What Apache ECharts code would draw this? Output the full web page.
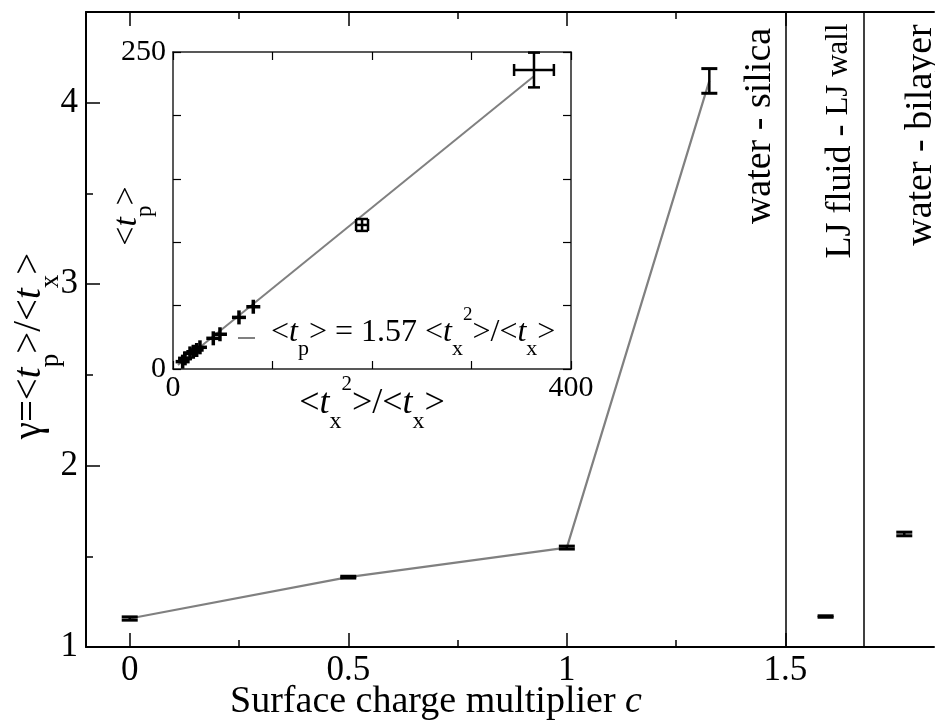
<!DOCTYPE html>
<html>
<head>
<meta charset="utf-8">
<script src="https://cdn.jsdelivr.net/npm/echarts@6/dist/echarts.min.js"></script>
<style>
  html, body { margin: 0; padding: 0; background: #fff; }
  #chart { width: 935px; height: 723px; }
</style>
</head>
<body>
<div id="chart"></div>
<script>
// main panel: gamma = <tp>/<tx> against surface charge multiplier c
const chargeC = [0, 0.5, 1, 1.326];
const gamma = [1.157, 1.385, 1.548, 4.12];
const gammaErr = [0.009, 0.005, 0.008, 0.068];

// the two other systems, right of the separators
const otherX = [1.592, 1.772];
const otherGamma = [1.168, 1.623];
const otherErr = [0.004, 0.01];
const separatorX = [1.5, 1.68];

const xTicks = [0, 0.5, 1, 1.5];
const xMinorTicks = [0.25, 0.75, 1.25];
const yTicks = [1, 2, 3, 4];
const yMinorTicks = [1.5, 2.5, 3.5];

// inset: <tp> against <tx^2>/<tx>
const insetX = [9.7, 12.1, 17.1, 20.4, 23.8, 27.1, 40.5, 47.2, 66.3, 80.7, 190, 362.8];
const insetY = [5.8, 8.4, 12.3, 13.6, 15.0, 17.1, 24.2, 27.4, 40.7, 49.1, 113.6, 235.8];
const insetXErr = [0, 0, 0, 0, 0, 0, 0, 0, 0, 0, 6, 20];
const insetYErr = [0, 0, 0, 0, 0, 0, 0, 0, 0, 0, 4.7, 13.7];
const fitX = [5, 363];
const fitY = [3.2, 231];
const insetXTicks = [0, 100, 200, 300, 400];
const insetYTicks = [0, 50, 100, 150, 200, 250];
const insetXLabels = [0, 400];
const insetYLabels = [0, 250];

const FONT = "'Liberation Serif', 'Times New Roman', serif";

const chart = echarts.init(document.getElementById('chart'), null, { renderer: 'canvas' });

function seg(x1, y1, x2, y2, w) {
  return { type: 'line', shape: { x1, y1, x2, y2 }, style: { stroke: '#000', lineWidth: w } };
}

function renderErrY(params, api) {
  const x = api.value(0), y = api.value(1), e = api.value(2);
  const lo = api.coord([x, y - e]);
  const hi = api.coord([x, y + e]);
  const w = 8;
  return {
    type: 'group',
    children: [
      seg(lo[0], lo[1], hi[0], hi[1], 2.5),
      seg(lo[0] - w, lo[1], lo[0] + w, lo[1], 3),
      seg(hi[0] - w, hi[1], hi[0] + w, hi[1], 3),
    ],
  };
}

function renderCross(params, api) {
  const x = api.value(0), y = api.value(1), ex = api.value(2), ey = api.value(3);
  const c = api.coord([x, y]);
  const arm = 7, cap = 6;
  const kids = [];
  if (ex > 0) {
    const l = api.coord([x - ex, y]), r = api.coord([x + ex, y]);
    kids.push(seg(l[0], c[1], r[0], c[1], 2.5), seg(l[0], c[1] - cap, l[0], c[1] + cap, 2.5), seg(r[0], c[1] - cap, r[0], c[1] + cap, 2.5));
  }
  if (ey > 0) {
    const b = api.coord([x, y - ey]), t = api.coord([x, y + ey]);
    kids.push(seg(c[0], b[1], c[0], t[1], 2.5), seg(c[0] - cap, b[1], c[0] + cap, b[1], 2.5), seg(c[0] - cap, t[1], c[0] + cap, t[1], 2.5));
  }
  if (!ex && !ey) {
    kids.push(seg(c[0] - arm, c[1], c[0] + arm, c[1], 3.5), seg(c[0], c[1] - arm, c[0], c[1] + arm, 3.5));
  }
  return { type: 'group', children: kids };
}

function tickAxis(extra) {
  return Object.assign({
    type: 'value',
    axisLine: { show: false, onZero: false },
    axisTick: { show: false },
    axisLabel: { show: false },
    splitLine: { show: false },
  }, extra);
}

const mainLine = { show: true, onZero: false, lineStyle: { color: '#000', width: 2 } };
const insetLine = { show: true, onZero: false, lineStyle: { color: '#222', width: 1.5 } };
const labelStyle = (size, vals, margin) => ({
  show: true, customValues: vals, color: '#000', fontFamily: FONT, fontSize: size, margin,
});
// inside=false on a bottom/left axis moved to the opposite border points the ticks into the box
const ticks = (vals, len, w, inside = true) => ({
  show: true, inside, length: len, customValues: vals, lineStyle: { color: '#000', width: w },
});

// main panel box, repeated so that each grid carries one axis per side
const mainBox = { left: 86, right: 1, top: 12, bottom: 76 };
const mainH = 723 - 12 - 76;
const insetBox = { left: 173, top: 52, width: 398, height: 317 };
const xMain = { min: -0.1, max: 1.84 };
const yMain = { min: 1, max: 4.5 };
const xInset = { min: 0, max: 400 };
const yInset = { min: 0, max: 250 };

const option = {
  animation: false,
  backgroundColor: '#fff',
  grid: [mainBox, insetBox, mainBox, mainBox, mainBox, insetBox],
  xAxis: [
    tickAxis({ gridIndex: 0, ...xMain, position: 'bottom', axisLine: mainLine,
      axisTick: ticks(xTicks, 14, 1.5), axisLabel: labelStyle(35, xTicks, 6) }),
    tickAxis({ gridIndex: 1, ...xInset, position: 'bottom', axisLine: insetLine,
      axisTick: ticks(insetXTicks, 8, 1.2), axisLabel: labelStyle(30, insetXLabels, 4) }),
    tickAxis({ gridIndex: 2, ...xMain, position: 'bottom', axisTick: ticks(xMinorTicks, 7, 1.5) }),
    // top border of the main panel
    tickAxis({ gridIndex: 3, ...xMain, position: 'bottom', offset: -mainH, axisLine: mainLine,
      axisTick: ticks(xTicks, 14, 1.5, false) }),
    tickAxis({ gridIndex: 4, ...xMain, position: 'bottom', offset: -mainH, axisTick: ticks(xMinorTicks, 7, 1.5, false) }),
    // top border of the inset
    tickAxis({ gridIndex: 5, ...xInset, position: 'bottom', offset: -insetBox.height, axisLine: insetLine,
      axisTick: ticks(insetXTicks, 8, 1.2, false) }),
  ],
  yAxis: [
    tickAxis({ gridIndex: 0, ...yMain, position: 'left', axisLine: mainLine,
      axisTick: ticks(yTicks, 14, 1.5), axisLabel: labelStyle(35, yTicks, 8) }),
    tickAxis({ gridIndex: 1, ...yInset, position: 'left', axisLine: insetLine,
      axisTick: ticks(insetYTicks, 8, 1.2), axisLabel: labelStyle(30, insetYLabels, 7) }),
    tickAxis({ gridIndex: 2, ...yMain, position: 'left', axisTick: ticks(yMinorTicks, 7, 1.5) }),
    tickAxis({ gridIndex: 3, ...yMain, position: 'left' }),
    tickAxis({ gridIndex: 4, ...yMain, position: 'left' }),
    // right border of the inset
    tickAxis({ gridIndex: 5, ...yInset, position: 'left', offset: -insetBox.width, axisLine: insetLine,
      axisTick: ticks(insetYTicks, 8, 1.2, false) }),
  ],
  series: [
    {
      type: 'line',
      xAxisIndex: 0,
      yAxisIndex: 0,
      data: chargeC.map((c, i) => [c, gamma[i]]),
      symbol: 'none',
      lineStyle: { color: '#808080', width: 2.2 },
      markLine: {
        silent: true,
        symbol: ['none', 'none'],
        label: { show: false },
        lineStyle: { color: '#000', width: 1.5, type: 'solid' },
        data: separatorX.map((v) => ({ xAxis: v })),
      },
      z: 2,
    },
    {
      type: 'custom',
      xAxisIndex: 0,
      yAxisIndex: 0,
      renderItem: renderErrY,
      data: chargeC.map((c, i) => [c, gamma[i], gammaErr[i]])
        .concat(otherX.map((x, i) => [x, otherGamma[i], otherErr[i]])),
      z: 3,
    },
    {
      type: 'line',
      xAxisIndex: 1,
      yAxisIndex: 1,
      data: fitX.map((x, i) => [x, fitY[i]]),
      symbol: 'none',
      lineStyle: { color: '#808080', width: 2 },
      z: 2,
    },
    {
      type: 'custom',
      xAxisIndex: 1,
      yAxisIndex: 1,
      renderItem: renderCross,
      data: insetX.map((x, i) => [x, insetY[i], insetXErr[i], insetYErr[i]]),
      z: 3,
    },
  ],
  graphic: [
    // axis titles
    {
      type: 'text', x: 436, y: 702,
      style: {
        text: '{n|Surface charge multiplier }{i|c}',
        textAlign: 'center', align: 'center', textVerticalAlign: 'middle', verticalAlign: 'middle', fill: '#000',
        rich: {
          n: { fontFamily: FONT, fontSize: 38, lineHeight: 44 },
          i: { fontFamily: FONT, fontSize: 38, lineHeight: 44, fontStyle: 'italic' },
        },
      },
    },
    {
      type: 'text', x: 30, y: 346, rotation: Math.PI / 2,
      style: {
        text: '{n|γ=<}{i|t}{s|p}{n|>/<}{i|t}{s|x}{n|>}',
        textAlign: 'center', align: 'center', textVerticalAlign: 'middle', verticalAlign: 'middle', fill: '#000',
        rich: {
          n: { fontFamily: FONT, fontSize: 39, lineHeight: 68 },
          i: { fontFamily: FONT, fontSize: 39, lineHeight: 68, fontStyle: 'italic' },
          s: { fontFamily: FONT, fontSize: 27, lineHeight: 27, verticalAlign: 'bottom' },
        },
      },
    },
    // inset titles
    {
      type: 'text', x: 127, y: 216, rotation: Math.PI / 2,
      style: {
        text: '{n|<}{i|t}{s|p}{n|>}',
        textAlign: 'center', align: 'center', textVerticalAlign: 'middle', verticalAlign: 'middle', fill: '#000',
        rich: {
          n: { fontFamily: FONT, fontSize: 34, lineHeight: 59 },
          i: { fontFamily: FONT, fontSize: 34, lineHeight: 59, fontStyle: 'italic' },
          s: { fontFamily: FONT, fontSize: 23, lineHeight: 23, verticalAlign: 'bottom' },
        },
      },
    },
    {
      type: 'text', x: 372, y: 404,
      style: {
        text: '{n|<}{i|t}{s|x}{u|2}{n|>/<}{i|t}{s|x}{n|>}',
        textAlign: 'center', align: 'center', textVerticalAlign: 'middle', verticalAlign: 'middle', fill: '#000',
        rich: {
          n: { fontFamily: FONT, fontSize: 36, lineHeight: 60 },
          i: { fontFamily: FONT, fontSize: 36, lineHeight: 60, fontStyle: 'italic' },
          s: { fontFamily: FONT, fontSize: 24, lineHeight: 24, verticalAlign: 'bottom' },
          u: { fontFamily: FONT, fontSize: 21, lineHeight: 46, verticalAlign: 'top' },
        },
      },
    },
    // inset legend
    {
      type: 'line', shape: { x1: 238, y1: 338, x2: 255, y2: 338 },
      style: { stroke: '#808080', lineWidth: 2 },
    },
    {
      type: 'text', x: 271, y: 333,
      style: {
        text: '{n|<}{i|t}{s|p}{n|> = 1.57 <}{i|t}{s|x}{u|2}{n|>/<}{i|t}{s|x}{n|>}',
        textAlign: 'left', align: 'left', textVerticalAlign: 'middle', verticalAlign: 'middle', fill: '#000',
        rich: {
          n: { fontFamily: FONT, fontSize: 32, lineHeight: 54 },
          i: { fontFamily: FONT, fontSize: 32, lineHeight: 54, fontStyle: 'italic' },
          s: { fontFamily: FONT, fontSize: 22, lineHeight: 22, verticalAlign: 'bottom' },
          u: { fontFamily: FONT, fontSize: 19, lineHeight: 42, verticalAlign: 'top' },
        },
      },
    },
    // system labels
    {
      type: 'text', x: 760, y: 126, rotation: Math.PI / 2,
      style: {
        text: 'water - silica', fontFamily: FONT, fontSize: 38, fill: '#000',
        textAlign: 'center', align: 'center', textVerticalAlign: 'middle', verticalAlign: 'middle',
      },
    },
    {
      type: 'text', x: 841, y: 141, rotation: Math.PI / 2,
      style: {
        text: '{a|LJ fluid - }{b|LJ wall}',
        textAlign: 'center', align: 'center', textVerticalAlign: 'middle', verticalAlign: 'middle', fill: '#000',
        rich: {
          a: { fontFamily: FONT, fontSize: 36, lineHeight: 36, verticalAlign: 'top' },
          b: { fontFamily: FONT, fontSize: 31, lineHeight: 31, verticalAlign: 'top' },
        },
      },
    },
    {
      type: 'text', x: 921, y: 135, rotation: Math.PI / 2,
      style: {
        text: 'water - bilayer', fontFamily: FONT, fontSize: 38, fill: '#000',
        textAlign: 'center', align: 'center', textVerticalAlign: 'middle', verticalAlign: 'middle',
      },
    },
  ],
};

chart.setOption(option);
</script>
</body>
</html>
